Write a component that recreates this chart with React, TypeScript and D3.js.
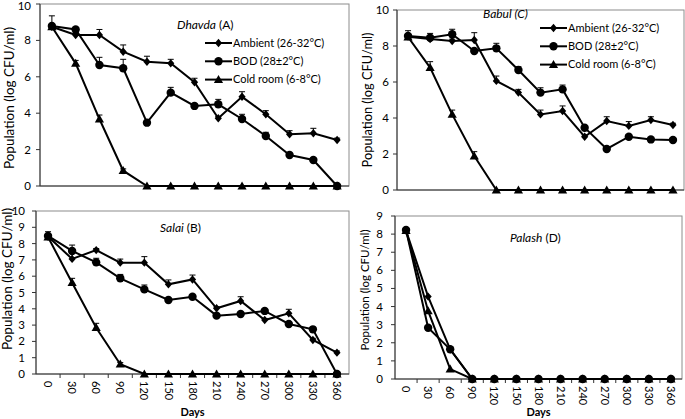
import React from "react";
import * as d3 from "d3";

const days = ["0", "30", "60", "90", "120", "150", "180", "210", "240", "270", "300", "330", "360"];
const seriesNames = ["Ambient (26-32°C)", "BOD (28±2°C)", "Cold room (6-8°C)"];

// Panel A – Dhavda
const ambA = [8.75, 8.3, 8.3, 7.38, 6.83, 6.74, 5.7, 3.72, 4.9, 3.94, 2.84, 2.9, 2.53];
const ambAErr = [0.6, 0.1, 0.3, 0.37, 0.3, 0.22, 0.22, 0.1, 0.28, 0.2, 0.2, 0.27, 0.1];
const bodA = [8.79, 8.6, 6.65, 6.47, 3.48, 5.13, 4.4, 4.49, 3.68, 2.75, 1.7, 1.43, 0];
const bodAErr = [0.1, 0.1, 0.42, 0.49, 0.1, 0.29, 0.1, 0.27, 0.26, 0.2, 0.1, 0.1, 0];
const coldA = [8.75, 6.74, 3.68, 0.84, 0, 0, 0, 0, 0, 0, 0, 0, 0];
const coldAErr = [0, 0.16, 0.22, 0.1, 0, 0, 0, 0, 0, 0, 0, 0, 0];

// Panel C – Babul
const ambC = [8.52, 8.39, 8.28, 8.33, 6.06, 5.41, 4.2, 4.39, 2.96, 3.83, 3.56, 3.89, 3.61];
const ambCErr = [0.33, 0.31, 0.1, 0.41, 0.27, 0.18, 0.24, 0.28, 0.1, 0.24, 0.24, 0.18, 0.1];
const bodC = [8.56, 8.46, 8.65, 7.72, 7.87, 6.67, 5.41, 5.59, 3.46, 2.28, 2.96, 2.81, 2.78];
const bodCErr = [0.1, 0.1, 0.28, 0.1, 0.28, 0.18, 0.27, 0.24, 0.1, 0.1, 0.1, 0.1, 0.1];
const coldC = [8.5, 6.8, 4.2, 1.89, 0, 0, 0, 0, 0, 0, 0, 0, 0];
const coldCErr = [0, 0.33, 0.24, 0.24, 0, 0, 0, 0, 0, 0, 0, 0, 0];

// Panel B – Salai
const ambB = [8.43, 7.06, 7.6, 6.83, 6.83, 5.5, 5.8, 4.03, 4.48, 3.31, 3.72, 2.09, 1.31];
const ambBErr = [0.3, 0.34, 0.1, 0.22, 0.37, 0.27, 0.27, 0.1, 0.26, 0.1, 0.25, 0.1, 0.1];
const bodB = [8.47, 7.55, 6.85, 5.87, 5.19, 4.54, 4.74, 3.58, 3.68, 3.87, 3.07, 2.74, 0];
const bodBErr = [0.1, 0.36, 0.25, 0.24, 0.27, 0.1, 0.1, 0.1, 0.1, 0.1, 0.1, 0.1, 0];
const coldB = [8.4, 5.6, 2.84, 0.6, 0, 0, 0, 0, 0, 0, 0, 0, 0];
const coldBErr = [0, 0.27, 0.27, 0.1, 0, 0, 0, 0, 0, 0, 0, 0, 0];

// Panel D – Palash
const ambD = [8.2, 4.55, 1.64, 0, 0, 0, 0, 0, 0, 0, 0, 0, 0];
const bodD = [8.23, 2.83, 1.64, 0, 0, 0, 0, 0, 0, 0, 0, 0, 0];
const coldD = [8.2, 3.76, 0.55, 0, 0, 0, 0, 0, 0, 0, 0, 0, 0];
const zeroErr = [0, 0, 0, 0, 0, 0, 0, 0, 0, 0, 0, 0, 0];

const yTicksA = [0, 2, 4, 6, 8, 10];
const yTicksB = [0, 1, 2, 3, 4, 5, 6, 7, 8, 9, 10];
const yTicksD = [0, 1, 2, 3, 4, 5, 6, 7, 8, 9];

const FONT = "Lato, 'Open Sans', sans-serif";

type Series = { vals: number[]; err: number[]; marker: "diamond" | "circle" | "triangle" };

type PanelCfg = {
  x0: number; x1: number; y0: number; y1: number;
  yMax: number; yTicks: number[];
  series: Series[];
  showX: boolean;
  titleItalic: string; titleRest: string; tx: number; ty: number;
  legend?: { lx: number; ly: number };
  ytx: number; ytSize: number; ytCy: number;
  labGap: number;
};

function Marker({ kind, x, y }: { kind: string; x: number; y: number }) {
  if (kind === "circle") return <circle cx={x} cy={y} r={4.2} fill="#000" />;
  if (kind === "diamond")
    return <path d={`M${x},${y - 4.2}L${x + 3.6},${y}L${x},${y + 4.2}L${x - 3.6},${y}Z`} fill="#000" />;
  return <path d={`M${x},${y - 4.6}L${x + 4.6},${y + 3.4}L${x - 4.6},${y + 3.4}Z`} fill="#000" />;
}

function Panel({ c }: { c: PanelCfg }) {
  const x = d3.scaleBand<string>().domain(days).range([c.x0, c.x1]);
  const y = d3.scaleLinear().domain([0, c.yMax]).range([c.y1, c.y0]);
  const cx = (d: string) => (x(d) as number) + x.bandwidth() / 2;
  const line = d3.line<number>().x((_, i) => cx(days[i])).y((v) => y(v));
  const legendOrder: Series[] = [
    c.series.find((s) => s.marker === "diamond")!,
    c.series.find((s) => s.marker === "circle")!,
    c.series.find((s) => s.marker === "triangle")!,
  ];
  return (
    <g fontFamily={FONT}>
      <rect x={c.x0} y={c.y0} width={c.x1 - c.x0} height={c.y1 - c.y0} fill="#fff" stroke="#8c8c8c" strokeWidth={1} />
      <line x1={c.x0} x2={c.x0} y1={c.y0} y2={c.y1} stroke="#333" strokeWidth={1} />
      {c.yTicks.map((t) => (
        <g key={t}>
          <line x1={c.x0 - 4} x2={c.x0} y1={y(t)} y2={y(t)} stroke="#333" />
          <text x={c.x0 - c.labGap} y={Math.max(y(t), 6)} dy="0.35em" textAnchor="end" fontSize={11.5} fill="#000">{t}</text>
        </g>
      ))}
      <line x1={c.x0} x2={c.x1} y1={c.y1} y2={c.y1} stroke="#333" strokeWidth={1} />
      {c.showX && (
        <g>
          {days.map((d, i) => (
            <g key={d}>
              {i > 0 && <line x1={x(d)} x2={x(d)} y1={c.y1} y2={c.y1 + 4} stroke="#333" />}
              <text
                transform={`translate(${cx(d)},${c.y1 + 7}) rotate(90)`}
                textAnchor="start"
                dy="0.35em"
                fontSize={11}
                fill="#000"
              >
                {d}
              </text>
            </g>
          ))}
          <text x={(c.x0 + c.x1) / 2} y={412} dy="0.35em" textAnchor="middle" fontSize={11} fontWeight="bold">Days</text>
        </g>
      )}
      <text
        transform={`translate(${c.ytx},${c.ytCy}) rotate(-90)`}
        textAnchor="middle"
        dy="0.35em"
        fontSize={c.ytSize}
        fill="#000"
      >
        Population (log CFU/ml)
      </text>
      {c.series.map((s, si) => (
        <g key={si}>
          <path d={line(s.vals) as string} fill="none" stroke="#000" strokeWidth={2} />
          {s.vals.map((v, i) =>
            s.err[i] > 0 ? (
              <g key={i} stroke="#000" strokeWidth={1}>
                <line x1={cx(days[i])} x2={cx(days[i])} y1={y(v)} y2={y(v + s.err[i])} />
                <line x1={cx(days[i]) - 3} x2={cx(days[i]) + 3} y1={y(v + s.err[i])} y2={y(v + s.err[i])} />
              </g>
            ) : null
          )}
          {s.vals.map((v, i) => (
            <Marker key={i} kind={s.marker} x={cx(days[i])} y={y(v)} />
          ))}
        </g>
      ))}
      <text x={c.tx} y={c.ty} dy="0.35em" fontSize={12} fill="#000">
        <tspan fontStyle="italic">{c.titleItalic}</tspan>
        <tspan>{c.titleRest}</tspan>
      </text>
      {c.legend &&
        legendOrder.map((s, i) => {
          const ly = c.legend!.ly + i * 18.3;
          const lx = c.legend!.lx;
          return (
            <g key={i}>
              <line x1={lx} x2={lx + 27} y1={ly} y2={ly} stroke="#000" strokeWidth={2} />
              <Marker kind={s.marker} x={lx + 13.5} y={ly} />
              <text x={lx + 28} y={ly} dy="0.35em" fontSize={11} fill="#000">{seriesNames[i]}</text>
            </g>
          );
        })}
    </g>
  );
}

const panels: PanelCfg[] = [
  {
    x0: 40, x1: 349, y0: 4, y1: 186, yMax: 10, yTicks: yTicksA,
    series: [
      { vals: coldA, err: coldAErr, marker: "triangle" },
      { vals: ambA, err: ambAErr, marker: "diamond" },
      { vals: bodA, err: bodAErr, marker: "circle" },
    ],
    showX: false, titleItalic: "Dhavda", titleRest: " (A)", tx: 177, ty: 25,
    legend: { lx: 205, ly: 43 }, ytx: 9, ytSize: 13.5, ytCy: 98, labGap: 9,
  },
  {
    x0: 397, x1: 684, y0: 10, y1: 190, yMax: 10, yTicks: yTicksA,
    series: [
      { vals: coldC, err: coldCErr, marker: "triangle" },
      { vals: ambC, err: ambCErr, marker: "diamond" },
      { vals: bodC, err: bodCErr, marker: "circle" },
    ],
    showX: false, titleItalic: "Babul (C)", titleRest: "", tx: 483, ty: 14,
    legend: { lx: 540, ly: 28 }, ytx: 368, ytSize: 12.8, ytCy: 100, labGap: 8,
  },
  {
    x0: 36, x1: 349, y0: 211, y1: 374, yMax: 10, yTicks: yTicksB,
    series: [
      { vals: coldB, err: coldBErr, marker: "triangle" },
      { vals: ambB, err: ambBErr, marker: "diamond" },
      { vals: bodB, err: bodBErr, marker: "circle" },
    ],
    showX: true, titleItalic: "Salai", titleRest: " (B)", tx: 160, ty: 228,
    ytx: 7, ytSize: 13.5, ytCy: 279, labGap: 11,
  },
  {
    x0: 395, x1: 682, y0: 216, y1: 379, yMax: 9, yTicks: yTicksD,
    series: [
      { vals: coldD, err: zeroErr, marker: "triangle" },
      { vals: ambD, err: zeroErr, marker: "diamond" },
      { vals: bodD, err: zeroErr, marker: "circle" },
    ],
    showX: true, titleItalic: "Palash", titleRest: " (D)", tx: 510, ty: 238,
    ytx: 365, ytSize: 11.5, ytCy: 290, labGap: 12,
  },
];

export default function App() {
  return (
    <svg width={685} height={419} style={{ position: "absolute", left: 0, top: 0, background: "#fff" }}>
      <rect width={685} height={419} fill="#fff" />
      {panels.map((p, i) => (
        <Panel key={i} c={p} />
      ))}
    </svg>
  );
}
